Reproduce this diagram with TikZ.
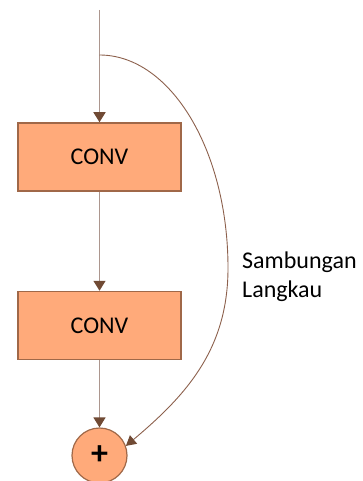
\documentclass[tikz,border=0pt]{standalone}
\usepackage{fontspec}
\setmainfont{Carlito}
\definecolor{convorange}{RGB}{255, 170, 122}
\definecolor{convbrown}{RGB}{160, 104, 72}
\definecolor{shaftgrey}{RGB}{172, 150, 142}
\definecolor{tipbrown}{RGB}{112, 74, 52}
\definecolor{skipbrown}{RGB}{140, 96, 76}
\usetikzlibrary{
    shapes.geometric,
    arrows.meta,
    positioning,
    calc
}

\begin{document}
\begin{tikzpicture}[x=1pt, y=1pt,
    convbox/.style={draw=convbrown, fill=convorange, line width=1.5pt,
                    minimum width=163pt, minimum height=68pt,
                    font=\fontsize{24}{29}\selectfont},
    flow/.style={draw=shaftgrey, line width=1.5pt,
                 -{Triangle[width=12pt, length=10pt, color=tipbrown]}},
    skip/.style={draw=skipbrown, line width=0.9pt,
                 -{Triangle[width=11pt, length=10pt, color=tipbrown]}}]
                    \useasboundingbox (0,0) rectangle (362,-481);

                    % Input line and branch point
                    \coordinate (in) at (99.5,-10);
                    \coordinate (split) at (99.5,-55);

                    % Convolution blocks
                    \node[convbox] (conv1) at (99.5,-157) {CONV};
                    \node[convbox] (conv2) at (99.5,-325.5) {CONV};

                    % Addition
                    \node[circle, draw=convbrown, fill=convorange, line width=1.2pt,
                          minimum size=55pt, inner sep=0pt,
                          font=\fontsize{34}{34}\bfseries] (plus) at (99.5,-455.5) {+};

                    % Main path
                    \draw[flow] (in) -- (conv1.north);
                    \draw[flow] (conv1.south) -- (conv2.north);
                    \draw[flow] (conv2.south) -- (plus.north);

                    % Skip connection
                    \draw[skip] (split) arc[start angle=90, end angle=0, x radius=128.5, y radius=213]
                        to[out=-90, in=40] (plus.20);
                    \node[anchor=base west, align=left, inner sep=0pt,
                          font=\fontsize{24}{28.5}\selectfont] (skiplabel) at (242,-297)
                          {Sambungan\\Langkau};
\end{tikzpicture}
\end{document}
